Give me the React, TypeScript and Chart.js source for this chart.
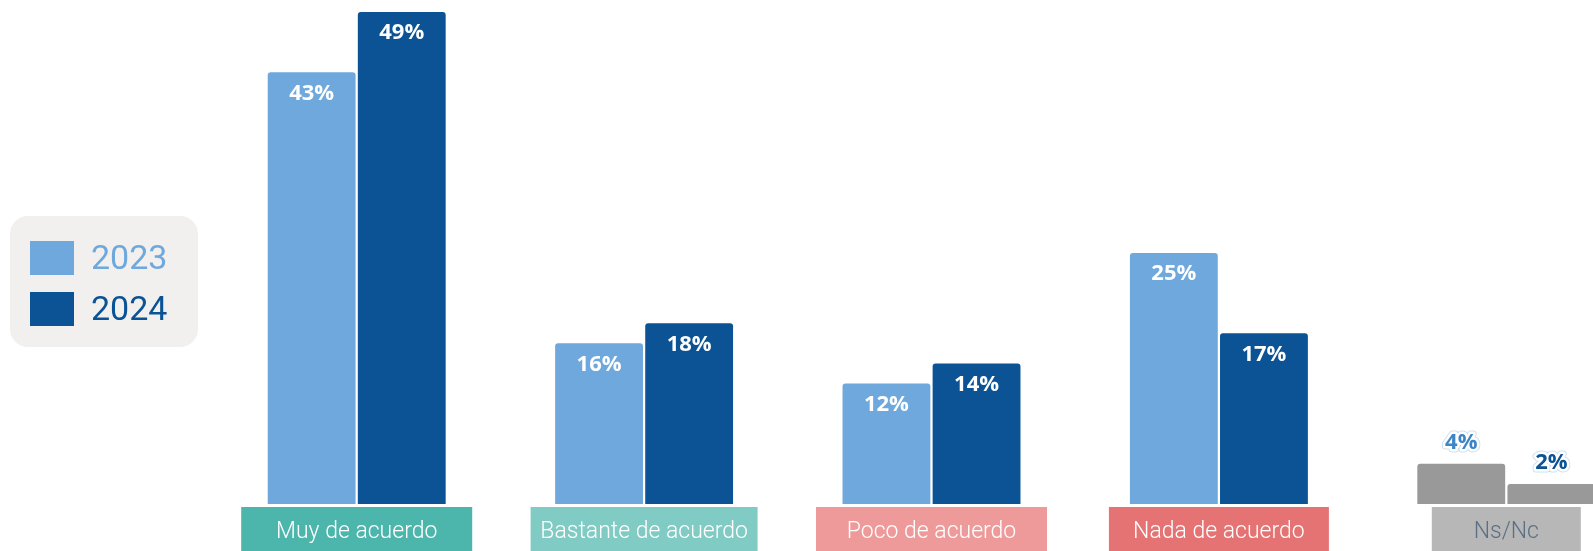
import React, { useEffect, useRef } from "react";
import { Chart, registerables } from "chart.js";

Chart.register(...registerables);

const categories = ["Muy de acuerdo", "Bastante de acuerdo", "Poco de acuerdo", "Nada de acuerdo", "Ns/Nc"];
const values2023 = [43, 16, 12, 25, 4];
const values2024 = [49, 18, 14, 17, 2];
const seriesLabels = ["2023", "2024"];
const valueSuffix = "%";

const color2023 = "#6fa8dc";
const color2024 = "#0b5394";
const grayBar = "#999999";
const boxColors = ["#4db6ac", "#80cbc4", "#ef9a9a", "#e57373", "#b7b7b7"];
const boxTextColors = ["#ffffff", "#ffffff", "#ffffff", "#ffffff", "#5b7083"];
const boxWidths = [231, 227, 231, 220, 149];
const outsideLabelColors = ["#3d85c6", "#0b5394"];

const W = 1670;
const H = 551;

function roundRect(ctx: CanvasRenderingContext2D, x: number, y: number, w: number, h: number, r: number) {
  ctx.beginPath();
  ctx.moveTo(x + r, y);
  ctx.lineTo(x + w - r, y);
  ctx.arcTo(x + w, y, x + w, y + r, r);
  ctx.lineTo(x + w, y + h - r);
  ctx.arcTo(x + w, y + h, x + w - r, y + h, r);
  ctx.lineTo(x + r, y + h);
  ctx.arcTo(x, y + h, x, y + h - r, r);
  ctx.lineTo(x, y + r);
  ctx.arcTo(x, y, x + r, y, r);
  ctx.closePath();
}

const decorPlugin = {
  id: "decor",
  afterDatasetsDraw(chart: any) {
    const ctx: CanvasRenderingContext2D = chart.ctx;
    const xScale = chart.scales.x;
    const last = categories.length - 1;
    ctx.save();
    // value labels
    chart.data.datasets.forEach((ds: any, di: number) => {
      const meta = chart.getDatasetMeta(di);
      meta.data.forEach((bar: any, i: number) => {
        const txt = ds.data[i] + valueSuffix;
        ctx.font = "bold 22px 'Open Sans'";
        ctx.textAlign = "center";
        ctx.textBaseline = "middle";
        if (i === last) {
          const y = bar.y - 21;
          ctx.lineJoin = "round";
          ctx.lineWidth = 7;
          ctx.strokeStyle = "rgba(61,133,198,0.25)";
          ctx.strokeText(txt, bar.x, y);
          ctx.lineWidth = 5;
          ctx.strokeStyle = "#ffffff";
          ctx.strokeText(txt, bar.x, y);
          ctx.fillStyle = outsideLabelColors[di];
          ctx.fillText(txt, bar.x, y);
        } else {
          ctx.fillStyle = "#ffffff";
          ctx.fillText(txt, bar.x, bar.y + 21);
        }
      });
    });
    // category boxes
    const top = chart.chartArea.bottom + 3;
    categories.forEach((c, i) => {
      const cx = xScale.getPixelForValue(i);
      const w = boxWidths[i];
      ctx.fillStyle = boxColors[i];
      ctx.fillRect(cx - w / 2, top, w, H - top + 6);
      ctx.fillStyle = boxTextColors[i];
      ctx.font = "300 23px Roboto";
      ctx.textAlign = "center";
      ctx.textBaseline = "middle";
      ctx.fillText(c, cx, top + 25);
    });
    // legend
    ctx.fillStyle = "#f2f0ef";
    roundRect(ctx, 10, 216, 188, 131, 18);
    ctx.fill();
    const rowY = [258, 309];
    chart.data.datasets.forEach((ds: any, di: number) => {
      const col = di === 0 ? color2023 : color2024;
      ctx.fillStyle = col;
      ctx.fillRect(30, rowY[di] - 17, 44, 34);
      ctx.font = "34px Roboto";
      ctx.textAlign = "left";
      ctx.textBaseline = "alphabetic";
      ctx.fillText(ds.label, 91, rowY[di] + 11);
    });
    ctx.restore();
  },
};

export default function App() {
  const ref = useRef<HTMLCanvasElement>(null);
  useEffect(() => {
    if (!ref.current) return;
    const bg = (base: string) => categories.map((_, i) => (i === categories.length - 1 ? grayBar : base));
    const chart = new Chart(ref.current, {
      type: "bar",
      data: {
        labels: categories,
        datasets: [
          {
            label: seriesLabels[0],
            data: values2023,
            backgroundColor: bg(color2023),
            borderRadius: { topLeft: 3, topRight: 3, bottomLeft: 0, bottomRight: 0 },
            borderSkipped: false,
            categoryPercentage: 0.627,
            barPercentage: 0.975,
          },
          {
            label: seriesLabels[1],
            data: values2024,
            backgroundColor: bg(color2024),
            borderRadius: { topLeft: 3, topRight: 3, bottomLeft: 0, bottomRight: 0 },
            borderSkipped: false,
            categoryPercentage: 0.627,
            barPercentage: 0.975,
          },
        ],
      },
      options: {
        responsive: false,
        animation: false,
        layout: { padding: { left: 213, right: 20, top: 2, bottom: 47 } },
        plugins: { legend: { display: false }, tooltip: { enabled: false } },
        scales: {
          x: { display: false },
          y: { display: false, min: 0, max: 50 },
        },
      },
      plugins: [decorPlugin],
    });
    return () => chart.destroy();
  }, []);
  return (
    <div style={{ position: "fixed", left: 0, top: 0, width: 1593, height: 551, overflow: "hidden", background: "#ffffff" }}>
      <canvas ref={ref} width={W} height={H} style={{ width: W, height: H, display: "block" }} />
    </div>
  );
}
